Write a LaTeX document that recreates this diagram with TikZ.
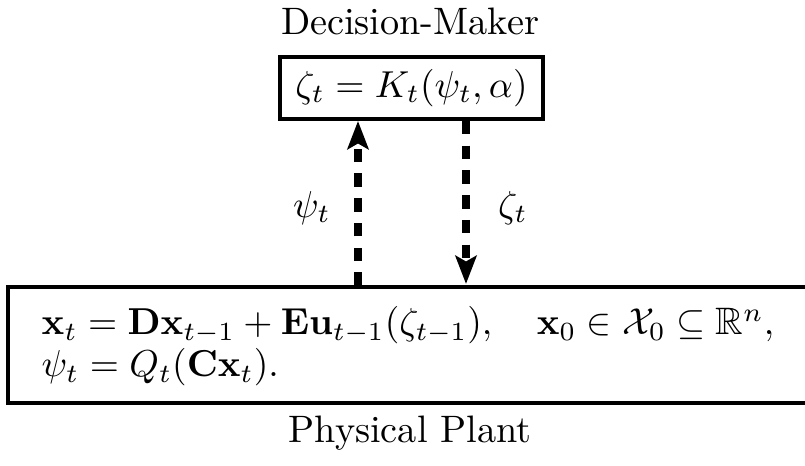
\documentclass[tikz,border=0pt]{standalone}
\usepackage{amsmath,amssymb}
\usetikzlibrary{arrows.meta}
\begin{document}
\begin{tikzpicture}[x=0.2667pt,y=-0.2667pt,
  boxst/.style={draw,line width=1pt,inner sep=0pt},
  flow/.style={line width=2.2pt,dash pattern=on 3.6pt off 3pt,-{Stealth[length=7.5pt,width=5.6pt,inset=1.5pt]}},
  lbl/.style={inner sep=0pt,font=\fontsize{10.2}{12}\selectfont}]
\useasboundingbox (0,0) rectangle (805,466);
\node[lbl,anchor=base] (dmt) at (410,35) {Decision-Maker};
\node[boxst,lbl,minimum width=263*0.2667pt,minimum height=62*0.2667pt] (dm) at (411.5,88) {$\zeta_t = K_t(\psi_t,\alpha)$};
\node[boxst,minimum width=810*0.2667pt,minimum height=116*0.2667pt] (pp) at (413,345) {};
\node[lbl,anchor=base west] (eq1) at (41,335) {$\mathbf{x}_t = \mathbf{D}\mathbf{x}_{t-1} + \mathbf{E}\mathbf{u}_{t-1}(\zeta_{t-1}),\quad \mathbf{x}_0\in\mathcal{X}_0\subseteq\mathbb{R}^n,$};
\node[lbl,anchor=base west] (eq2) at (41,377) {$\psi_t = Q_t(\mathbf{C}\mathbf{x}_t).$};
\node[lbl,anchor=base] (ppt) at (410,443) {Physical Plant};
\coordinate (a1) at (358,286);
\coordinate (a2) at (358,121);
\coordinate (b1) at (466,121);
\coordinate (b2) at (466,284);
\draw[flow] (a1) -- (a2);
\draw[flow] (b1) -- (b2);
\node[lbl] (psi) at (312,208) {$\psi_t$};
\node[lbl] (zeta) at (513,208) {$\zeta_t$};
\end{tikzpicture}
\end{document}
